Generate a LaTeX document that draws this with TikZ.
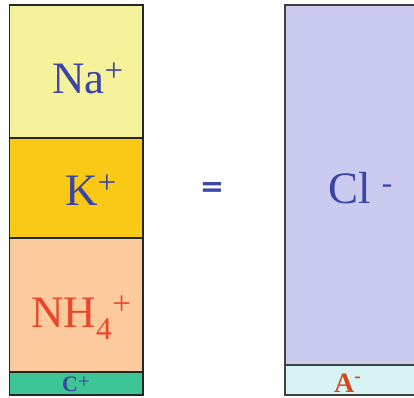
\documentclass[tikz,border=0pt]{standalone}
\usepackage{fontspec}
\setmainfont{Liberation Serif}
\newfontfamily\eqfont{DejaVu Sans}
\usepackage{xcolor}
\usepackage{tikz}

\definecolor{naFill}{HTML}{F5F29B}
\definecolor{kFill}{HTML}{F9C916}
\definecolor{nhFill}{HTML}{FCCB9D}
\definecolor{cFill}{HTML}{3DC596}
\definecolor{clFill}{HTML}{CACBEE}
\definecolor{aFill}{HTML}{D8F3F3}
\definecolor{ionBlue}{HTML}{3B45A5}
\definecolor{ionRed}{HTML}{E8472A}
\definecolor{anRed}{HTML}{D24A1C}

% raised charge sign
\newcommand{\ionplus}[1]{\raisebox{#1}{\fontsize{33}{35}\mdseries\selectfont +}}

\begin{document}
\begin{tikzpicture}[x=1pt, y=-1pt,
  cell/.style={draw=black!85, line width=1.2pt},
  bigion/.style={anchor=base west, inner sep=0pt, font=\fontsize{45}{50}\selectfont},
  smallion/.style={anchor=base west, inner sep=0pt, font=\bfseries\fontsize{22}{24}\selectfont}]
\useasboundingbox (0,0) rectangle (414,397);
\clip (0,0) rectangle (414,397);

% Cations column
\def\lx{9.5}
\def\rx{143}
\fill[naFill] (\lx,5) rectangle (\rx,138);
\fill[kFill] (\lx,138) rectangle (\rx,238);
\fill[nhFill] (\lx,238) rectangle (\rx,372);
\fill[cFill] (\lx,372) rectangle (\rx,395);
\draw[cell] (\lx,5) rectangle (\rx,395);
\foreach \y in {138,238,372} {
  \draw[cell] (\lx,\y) -- (\rx,\y);
}

% Anions column
\fill[clFill] (285,5) rectangle (420,365);
\fill[aFill] (285,365) rectangle (420,395);
\draw[cell, draw=black!75, line width=2pt] (285,5) rectangle (420,395);
\draw[cell, draw=black!75, line width=2pt] (285,365) -- (420,365);

% Labels
\node[bigion, text=ionBlue] (na) at (52,93) {Na\ionplus{12pt}};
\node[bigion, text=ionBlue] (k) at (65,205) {K\ionplus{12pt}};
\node[bigion, text=ionRed] (nh) at (31,327) {NH\textsubscript{4}\ionplus{13pt}};
\node[smallion, text=ionBlue] (c) at (62,391.5) {C\raisebox{3pt}{\fontsize{21}{23}\mdseries\selectfont +}};
\node[bigion, text=ionBlue] (cl) at (328,203) {Cl \textsuperscript{-}};
\node[smallion, text=anRed, font=\bfseries\fontsize{28}{30}\selectfont] (a) at (334,392) {A\textsuperscript{-}};

% Equals sign
\node[bigion, text=ionBlue, anchor=center, font=\eqfont\bfseries\fontsize{29}{31}\selectfont] (eq) at (212,190) {=};

\end{tikzpicture}
\end{document}
